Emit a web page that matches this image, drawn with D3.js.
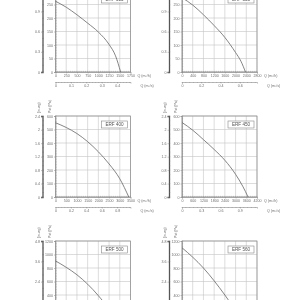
<!DOCTYPE html>
<html>
<head>
<meta charset="utf-8">
<script src="https://cdn.jsdelivr.net/npm/d3@7"></script>
<style>
  body { margin: 0; background: #fff; }
  svg { display: block; font-family: "Liberation Sans", Arial, sans-serif; will-change: transform; }
</style>
</head>
<body>
<div id="chart"></div>
<script>
// panel labels and axis ranges, one entry per panel (row by row)
const models = ['ERF 315', 'ERF 355', 'ERF 400', 'ERF 450', 'ERF 500', 'ERF 560'];
const flowMax = [1750, 2800, 3500, 4200, 7000, 7000];
const flowStep = [250, 400, 500, 600, 1000, 1000];
const pressMax = [300, 300, 600, 600, 1200, 1200];
const pressStep = [50, 50, 100, 100, 200, 200];
const inwgStep = [0.3, 0.3, 0.4, 0.4, 1.2, 1.2];
const m3sStep = [0.1, 0.2, 0.2, 0.3, 0.5, 0.5];

// fan curves: flow (m3/h) and static pressure (Pa)
const erf315Q = [0, 250, 500, 750, 1000, 1250, 1400, 1520];
const erf315P = [262, 240, 212, 181, 148, 102, 60, 0];
const erf355Q = [0, 400, 800, 1200, 1600, 2000, 2200, 2370];
const erf355P = [275, 248, 212, 172, 128, 72, 40, 0];
const erf400Q = [0, 500, 1000, 1500, 2000, 2500, 3000, 3420];
const erf400P = [550, 515, 470, 410, 335, 245, 135, 0];
const erf450Q = [0, 600, 1200, 1800, 2400, 3000, 3400, 3700];
const erf450P = [552, 495, 425, 352, 272, 168, 80, 0];
const erf500Q = [0, 1000, 2000, 3000, 4000, 5000, 5600];
const erf500P = [905, 810, 700, 560, 390, 180, 0];
const erf560Q = [0, 1000, 2000, 3000, 4000, 5000, 5700];
const erf560P = [1100, 960, 800, 610, 400, 170, 0];

const curvesQ = [erf315Q, erf355Q, erf400Q, erf450Q, erf500Q, erf560Q];
const curvesP = [erf315P, erf355P, erf400P, erf450P, erf500P, erf560P];

const PA_PER_INWG = 249.09;

const svg = d3.select('#chart').append('svg')
  .attr('width', 300)
  .attr('height', 300);

const gridColor = '#c4c4c4';
const axisColor = '#8a8a8a';
const textColor = '#6e6e6e';
const fs = 3.6;

// round a value for tick labels
const fmt = v => +v.toFixed(2) + '';

models.forEach((name, i) => {
  const col = i % 2, row = Math.floor(i / 2);
  const x0 = 55.5 + col * 126.5;
  const y0 = -9 + row * 125;
  const w = 75, h = 81;

  const x = d3.scaleLinear().domain([0, flowMax[i]]).range([0, w]);
  const y = d3.scaleLinear().domain([0, pressMax[i]]).range([h, 0]);

  const g = svg.append('g').attr('transform', `translate(${x0},${y0})`);

  // grid
  g.append('g').selectAll('line.v')
    .data(d3.range(0, flowMax[i] + 1, flowStep[i]))
    .join('line')
    .attr('x1', d => x(d)).attr('x2', d => x(d))
    .attr('y1', 0).attr('y2', h)
    .attr('stroke', gridColor).attr('stroke-width', 0.6);
  g.append('g').selectAll('line.h')
    .data(d3.range(0, pressMax[i] + 1, pressStep[i]))
    .join('line')
    .attr('x1', 0).attr('x2', w)
    .attr('y1', d => y(d)).attr('y2', d => y(d))
    .attr('stroke', gridColor).attr('stroke-width', 0.6);

  // frame
  g.append('rect')
    .attr('width', w).attr('height', h)
    .attr('fill', 'none').attr('stroke', axisColor).attr('stroke-width', 0.7);

  // pressure axis (Pa)
  const yAxis = d3.axisLeft(y)
    .tickValues(d3.range(0, pressMax[i] + 1, pressStep[i]))
    .tickSize(1.5).tickPadding(1).tickFormat(d3.format('d'));
  g.append('g').call(yAxis);
  g.append('g').selectAll('line')
    .data(d3.range(0, pressMax[i] + 1, pressStep[i] / 5))
    .join('line')
    .attr('x1', 0).attr('x2', 1.2)
    .attr('y1', d => y(d)).attr('y2', d => y(d))
    .attr('stroke', axisColor).attr('stroke-width', 0.4);

  // pressure axis (in. wg)
  const yw = d3.scaleLinear().domain([0, pressMax[i] / PA_PER_INWG]).range([h, 0]);
  const wAxis = d3.axisLeft(yw)
    .tickValues(d3.range(0, pressMax[i] / PA_PER_INWG + 1e-6, inwgStep[i]))
    .tickSize(1.5).tickPadding(1).tickFormat(fmt);
  const wa = g.append('g').attr('transform', 'translate(-13,0)').call(wAxis);
  wa.select('.domain').attr('stroke-width', 1.3).attr('stroke', '#555');
  g.append('g').attr('transform', 'translate(-13,0)').selectAll('line')
    .data(d3.range(0, pressMax[i] / PA_PER_INWG, inwgStep[i] / 3))
    .join('line')
    .attr('x1', 0).attr('x2', 1.2)
    .attr('y1', d => yw(d)).attr('y2', d => yw(d))
    .attr('stroke', '#666').attr('stroke-width', 0.5);

  // flow axis (m3/h)
  const xAxis = d3.axisBottom(x)
    .tickValues(d3.range(0, flowMax[i] + 1, flowStep[i]))
    .tickSize(1.5).tickPadding(1).tickFormat(d3.format('d'));
  g.append('g').attr('transform', `translate(0,${h})`).call(xAxis);
  g.append('g').selectAll('line')
    .data(d3.range(0, flowMax[i] + 1, flowStep[i] / 5))
    .join('line')
    .attr('x1', d => x(d)).attr('x2', d => x(d))
    .attr('y1', h).attr('y2', h - 1.2)
    .attr('stroke', axisColor).attr('stroke-width', 0.4);
  g.append('text')
    .attr('x', w + 7).attr('y', h + 5.2)
    .text('Q (m³/h)');

  // flow axis (m3/s)
  const xs = d3.scaleLinear().domain([0, flowMax[i] / 3600]).range([0, w]);
  const sAxis = d3.axisBottom(xs)
    .tickValues(d3.range(0, flowMax[i] / 3600 + 1e-6, m3sStep[i]))
    .tickSize(1.5).tickPadding(1).tickFormat(fmt);
  g.append('g').attr('transform', `translate(0,${h + 10})`).call(sAxis);
  g.append('g').attr('transform', `translate(0,${h + 10})`).selectAll('line')
    .data(d3.range(0, flowMax[i] / 3600, m3sStep[i] / 5))
    .join('line')
    .attr('x1', d => xs(d)).attr('x2', d => xs(d))
    .attr('y1', 0).attr('y2', 1)
    .attr('stroke', axisColor).attr('stroke-width', 0.4);
  g.append('text')
    .attr('x', w + 10).attr('y', h + 15)
    .text('Q (m³/s)');

  // rotated unit labels above the pressure axes (top row is cut off in the reference)
  if (row > 0) {
    g.append('text')
      .attr('transform', `translate(-5,-3) rotate(-90)`)
      .text('Pst (Pa)');
    g.append('text')
      .attr('transform', `translate(-16,-3) rotate(-90)`)
      .text('(in.wg)');
  }

  // fan curve
  const pts = curvesQ[i].map((q, k) => [q, curvesP[i][k]]);
  g.append('path')
    .datum(pts)
    .attr('fill', 'none')
    .attr('stroke', '#666')
    .attr('stroke-width', 0.8)
    .attr('d', d3.line().x(d => x(d[0])).y(d => y(d[1])).curve(d3.curveMonotoneX));

  // model label box
  const lg = g.append('g').attr('transform', `translate(${w - 29},5)`);
  lg.append('rect')
    .attr('width', 26).attr('height', 7)
    .attr('fill', '#fff').attr('stroke', '#888').attr('stroke-width', 0.6);
  lg.append('text')
    .attr('x', 13).attr('y', 5.1)
    .attr('text-anchor', 'middle')
    .attr('font-size', 4.6)
    .attr('fill', '#555')
    .text(name);

  // style axis text and lines
  g.selectAll('.domain').filter(function () { return !this.getAttribute('stroke-width'); })
    .attr('stroke', axisColor).attr('stroke-width', 0.6);
  g.selectAll('.tick line').attr('stroke', axisColor).attr('stroke-width', 0.5);
  g.selectAll('text')
    .attr('fill', function () { return this.getAttribute('fill') || textColor; })
    .attr('font-size', function () { return this.getAttribute('font-size') || fs; })
    .attr('font-family', null);
  g.selectAll('.tick text').attr('font-size', fs).attr('fill', textColor);

  // drop tick labels that fall outside the 300px window
  g.selectAll('.tick').filter(function () {
    const ty = y0 + (this.transform.baseVal.consolidate()?.matrix.f || 0) +
      (this.parentNode.transform.baseVal.consolidate()?.matrix.f || 0);
    return ty < 1 || ty > 299;
  }).select('text').remove();
});
</script>
</body>
</html>
